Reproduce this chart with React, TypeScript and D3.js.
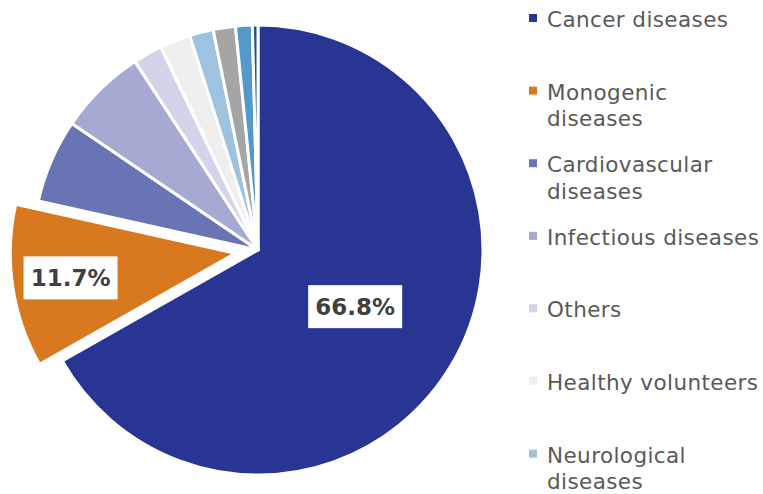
import React from 'react';
import * as d3 from 'd3';

const categories = [
  'Cancer diseases',
  'Monogenic diseases',
  'Cardiovascular diseases',
  'Infectious diseases',
  'Others',
  'Healthy volunteers',
  'Neurological diseases',
  'Metabolic diseases',
  'Autoimmune diseases',
  'Ocular diseases',
];
const shares = [66.8, 11.7, 6.0, 6.3, 2.1, 2.2, 1.7, 1.6, 1.2, 0.4];
const colors = [
  '#283593', '#d9791f', '#6874b4', '#a6aad3', '#d3d4e9',
  '#efefef', '#9dc3e0', '#a5a5a5', '#5599cc', '#1f4f9e',
];
// legend only shows the first entries, the rest falls off the bottom
const legendLines = [
  ['Cancer diseases'],
  ['Monogenic', 'diseases'],
  ['Cardiovascular', 'diseases'],
  ['Infectious diseases'],
  ['Others'],
  ['Healthy volunteers'],
  ['Neurological', 'diseases'],
];
const labelled = [0, 1];

const W = 763;
const H = 494;
const cx = 258;
const cy = 250;
const R = 225;
const explode = 23;
const font = '"DejaVu Sans", sans-serif';

export default function App() {
  const pie = d3.pie<number>().value((d) => d).sort(null);
  const arcs = pie(shares);
  const arc = d3.arc<d3.PieArcDatum<number>>().innerRadius(0).outerRadius(R);

  const offset = (d: d3.PieArcDatum<number>, i: number) => {
    if (i !== 1) return [0, 0];
    const a = (d.startAngle + d.endAngle) / 2;
    return [Math.sin(a) * explode, -Math.cos(a) * explode];
  };

  const labelR = [0.5, 0.74];

  return (
    <svg width={W} height={H} style={{ position: 'absolute', left: 0, top: 0, background: '#fff' }}>
      <g transform={`translate(${cx},${cy})`}>
        {arcs.map((d, i) => {
          const [ox, oy] = offset(d, i);
          return (
            <path
              key={i}
              d={arc(d) as string}
              transform={`translate(${ox},${oy})`}
              fill={colors[i]}
              stroke="#fff"
              strokeWidth={3}
              strokeLinejoin="round"
            />
          );
        })}
        {labelled.map((i) => {
          const d = arcs[i];
          const [ox, oy] = offset(d, i);
          const a = (d.startAngle + d.endAngle) / 2;
          const x = ox + Math.sin(a) * R * labelR[i];
          const y = oy - Math.cos(a) * R * labelR[i];
          const txt = `${shares[i].toFixed(1)}%`;
          return (
            <g key={i} transform={`translate(${x},${y})`}>
              <rect x={-47} y={-21.5} width={94} height={43} fill="#fff" />
              <text
                textAnchor="middle"
                dy="0.36em"
                fontFamily={font}
                fontWeight="bold"
                fontSize={23}
                fill="#404040"
              >
                {txt}
              </text>
            </g>
          );
        })}
      </g>
      <g>
        {legendLines.map((lines, i) => {
          const y = 18 + i * 72.6;
          return (
            <g key={i}>
              <rect x={529} y={y - 4} width={8} height={8} fill={colors[i]} />
              {lines.map((t, j) => (
                <text
                  key={j}
                  x={547}
                  y={y + 9 + j * 26.5}
                  fontFamily={font}
                  fontSize={21.5}
                  letterSpacing={0.4}
                  fill="#595959"
                >
                  {t}
                </text>
              ))}
            </g>
          );
        })}
      </g>
    </svg>
  );
}
